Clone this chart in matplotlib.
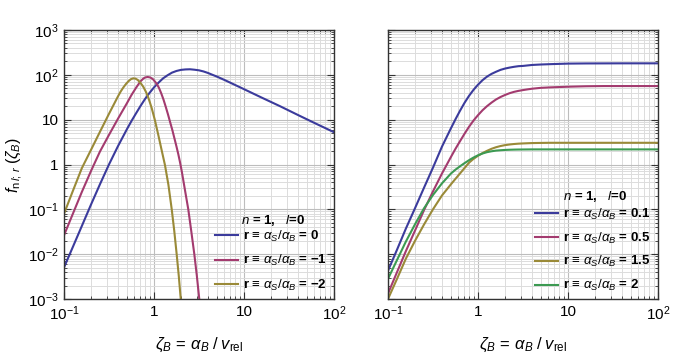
import numpy as np
import matplotlib
matplotlib.use('Agg')
import matplotlib.pyplot as plt
from matplotlib.ticker import LogLocator, NullFormatter

plt.rcParams['font.family'] = ['Liberation Sans', 'DejaVu Sans']
plt.rcParams['mathtext.fontset'] = 'custom'
plt.rcParams['mathtext.rm'] = 'Liberation Sans'
plt.rcParams['mathtext.it'] = 'Liberation Sans:italic'
plt.rcParams['mathtext.bf'] = 'Liberation Sans:bold'

# ---- data ----
# left panel: r = 0, -1, -2
x_r0 = [0.1, 0.126, 0.158, 0.2, 0.251, 0.316, 0.398, 0.501,
        0.562, 0.631, 0.708, 0.794, 0.891, 1.0, 1.122, 1.259, 1.413, 1.585, 1.778, 1.995,
        2.239, 2.512, 2.818, 3.162, 3.548, 3.981, 4.467, 5.012, 5.623, 6.31,
        7.94, 10, 15.8, 25.1, 39.8, 63.1, 100]
f_r0 = [0.00505, 0.0148, 0.0427, 0.129, 0.363, 1.0, 2.57, 6.17,
        9.33, 13.8, 20.2, 28.8, 39.4, 52.5, 66.8, 83.2, 97.7, 112, 122, 129,
        132, 133, 130, 126, 119, 110, 100, 91.2, 82.2, 74.1,
        59.6, 47.9, 30.9, 20.0, 12.7, 8.13, 5.25]

x_rm1 = [0.1, 0.126, 0.158, 0.2, 0.251, 0.316, 0.398, 0.501, 0.562, 0.631, 0.708, 0.759,
         0.794, 0.851, 0.912, 0.977, 1.072, 1.135, 1.202, 1.274, 1.349, 1.429, 1.507, 1.603,
         1.698, 1.778, 1.862, 1.950, 2.042, 2.239, 2.404, 2.600, 2.805, 2.992, 3.184, 3.388]
f_rm1 = [0.0263, 0.0813, 0.245, 0.724, 1.95, 4.57, 10.5, 23.4, 35.5, 51.3, 71.6, 82.2,
         87.1, 89.5, 87.1, 79.4, 63.1, 51.3, 38.9, 28.2, 19.5, 13.2, 8.97, 5.75,
         3.63, 2.51, 1.70, 1.10, 0.676, 0.229, 0.1, 0.0316, 0.01, 0.00331, 0.001, 0.000302]

x_rm2 = [0.1, 0.126, 0.158, 0.2, 0.251, 0.316, 0.398, 0.427, 0.457, 0.490, 0.525, 0.556,
         0.589, 0.624, 0.661, 0.708, 0.760, 0.804, 0.851, 0.895, 0.942, 1.023, 1.117, 1.216,
         1.324, 1.445, 1.574, 1.679, 1.786, 1.884, 1.982, 2.080]
f_rm2 = [0.0794, 0.263, 0.832, 2.14, 5.37, 13.5, 33.1, 42.7, 52.5, 63.1, 73.3, 80.4,
         83.6, 82.2, 76.7, 66.1, 54.2, 43.7, 33.9, 25.1, 18.2, 9.77, 4.53, 2.09,
         0.970, 0.355, 0.1, 0.0331, 0.01, 0.00331, 0.001, 0.000316]

# right panel: r = 0.1, 0.5, 1.5, 2
x_right = [0.1, 0.126, 0.158, 0.2, 0.251, 0.316, 0.398,
           0.501, 0.562, 0.631, 0.708, 0.794, 0.891, 1.0, 1.122, 1.259, 1.413, 1.585, 1.778,
           1.995, 2.239, 2.512, 2.818, 3.162, 3.548, 3.981,
           5.01, 6.31, 10, 15.8, 25.1, 39.8, 63.1, 100]
f_r01 = [0.00427, 0.0126, 0.0372, 0.107, 0.302, 0.851, 2.51,
         6.46, 10.2, 15.8, 23.7, 33.9, 46.2, 60.3, 75.9, 91.2, 105, 117, 129,
         138, 145, 151, 156, 158, 162, 166,
         170, 173, 178, 179.5, 180, 180.5, 180.5, 180.5]
f_r05 = [0.00132, 0.00398, 0.0117, 0.0339, 0.0955, 0.251, 0.631,
         1.48, 2.24, 3.31, 4.84, 6.92, 9.55, 12.6, 16.2, 20.0, 24.0, 28.2, 32.0,
         35.5, 38.9, 41.7, 43.9, 45.7, 47.4, 49.0,
         51.3, 52.5, 54.3, 55.6, 56.2, 56.2, 56.2, 56.2]
f_r15 = [0.001, 0.00282, 0.00794, 0.020, 0.0457, 0.1, 0.204,
         0.363, 0.479, 0.631, 0.832, 1.096, 1.334, 1.567, 1.799, 2.018, 2.239, 2.427, 2.582,
         2.704, 2.793, 2.864, 2.917, 2.951, 2.979, 3.006,
         3.03, 3.05, 3.05, 3.05, 3.05, 3.05, 3.05, 3.05]
f_r2 = [0.00282, 0.00741, 0.0191, 0.0468, 0.105, 0.209, 0.380,
        0.631, 0.767, 0.912, 1.072, 1.245, 1.429, 1.603, 1.758, 1.884, 1.972, 2.042, 2.080,
        2.113, 2.133, 2.148, 2.158, 2.163, 2.168, 2.173,
        2.173, 2.173, 2.173, 2.173, 2.173, 2.173, 2.173, 2.173]

left_labels = ['r ≡ $\\alpha_S/\\alpha_B$ = 0', 'r ≡ $\\alpha_S/\\alpha_B$ = −1',
               'r ≡ $\\alpha_S/\\alpha_B$ = −2']
right_labels = ['r ≡ $\\alpha_S/\\alpha_B$ = 0.1', 'r ≡ $\\alpha_S/\\alpha_B$ = 0.5',
                'r ≡ $\\alpha_S/\\alpha_B$ = 1.5', 'r ≡ $\\alpha_S/\\alpha_B$ = 2']

blue = '#3b3b9c'
magenta = '#a33b6f'
olive = '#9a8a38'
green = '#3c9a52'

x_ticks = [0.1, 1, 10, 100]
x_ticklabels = ['$10^{-1}$', '1', '10', '$10^{2}$']
y_ticks = [1e-3, 1e-2, 1e-1, 1, 10, 1e2, 1e3]
y_ticklabels = ['$10^{-3}$', '$10^{-2}$', '$10^{-1}$', '1', '10', '$10^{2}$', '$10^{3}$']

fig = plt.figure(figsize=(6.95, 3.57), dpi=100)
ax1 = fig.add_axes([64 / 695, 1 - 299 / 357, 270 / 695, 269 / 357])
ax2 = fig.add_axes([388 / 695, 1 - 299 / 357, 270 / 695, 269 / 357])


def style_axis(ax, show_ylabels):
    ax.set_xscale('log')
    ax.set_yscale('log')
    ax.set_xlim(0.1, 100)
    ax.set_ylim(1e-3, 1e3)
    ax.xaxis.set_minor_locator(LogLocator(base=10, subs=np.arange(2, 10), numticks=50))
    ax.yaxis.set_minor_locator(LogLocator(base=10, subs=np.arange(2, 10), numticks=50))
    ax.set_xticks(x_ticks)
    ax.set_xticklabels(x_ticklabels)
    ax.set_yticks(y_ticks)
    if show_ylabels:
        ax.set_yticklabels(y_ticklabels)
    else:
        ax.set_yticklabels([])
    ax.xaxis.set_minor_formatter(NullFormatter())
    ax.yaxis.set_minor_formatter(NullFormatter())
    ax.tick_params(which='both', direction='in', top=True, right=True, labelsize=11,
                   color='#333333', pad=4)
    ax.tick_params(which='major', length=5, width=0.8)
    ax.tick_params(which='minor', length=2.5, width=0.6)
    ax.grid(True, which='major', color='#bdbdbd', lw=0.8)
    ax.grid(True, which='minor', color='#dcdcdc', lw=0.7)
    ax.set_axisbelow(True)
    for s in ax.spines.values():
        s.set_color('#333333')
        s.set_linewidth(1.0)
    ax.set_xlabel('$\\zeta_B\\,=\\,\\alpha_B\\;/\\;v_{\\mathrm{rel}}$', fontsize=12, labelpad=9)


style_axis(ax1, True)
style_axis(ax2, False)

ax1.plot(x_r0, f_r0, color=blue, lw=1.5, label=left_labels[0])
ax1.plot(x_rm1, f_rm1, color=magenta, lw=1.5, label=left_labels[1])
ax1.plot(x_rm2, f_rm2, color=olive, lw=1.5, label=left_labels[2])

ax2.plot(x_right, f_r01, color=blue, lw=1.5, label=right_labels[0])
ax2.plot(x_right, f_r05, color=magenta, lw=1.5, label=right_labels[1])
ax2.plot(x_right, f_r15, color=olive, lw=1.5, label=right_labels[2])
ax2.plot(x_right, f_r2, color=green, lw=1.5, label=right_labels[3])

ax1.set_ylabel('$f_{\\mathrm{n}\\,l;\\,r}\\;(\\zeta_B)$', fontsize=11.5)
ax1.yaxis.set_label_coords(-0.145, 0.5)

leg_kw = dict(frameon=False, loc='upper left', handlelength=1.75, handletextpad=0.35,
              borderpad=0, borderaxespad=0, prop={'size': 9.5, 'weight': 'bold'})
ax1.legend(bbox_to_anchor=(0.559, 0.262), labelspacing=0.72, **leg_kw)
ax2.legend(bbox_to_anchor=(0.544, 0.343), labelspacing=0.66, **leg_kw)

ax1.text(0.656, 0.29, '$n$ = 1,   $l$=0', transform=ax1.transAxes, fontsize=9.5,
         fontweight='bold', va='center', ha='left')
ax2.text(0.648, 0.38, '$n$ = 1,   $l$=0', transform=ax2.transAxes, fontsize=9.5,
         fontweight='bold', va='center', ha='left')

fig.savefig('out.png', dpi=100)
